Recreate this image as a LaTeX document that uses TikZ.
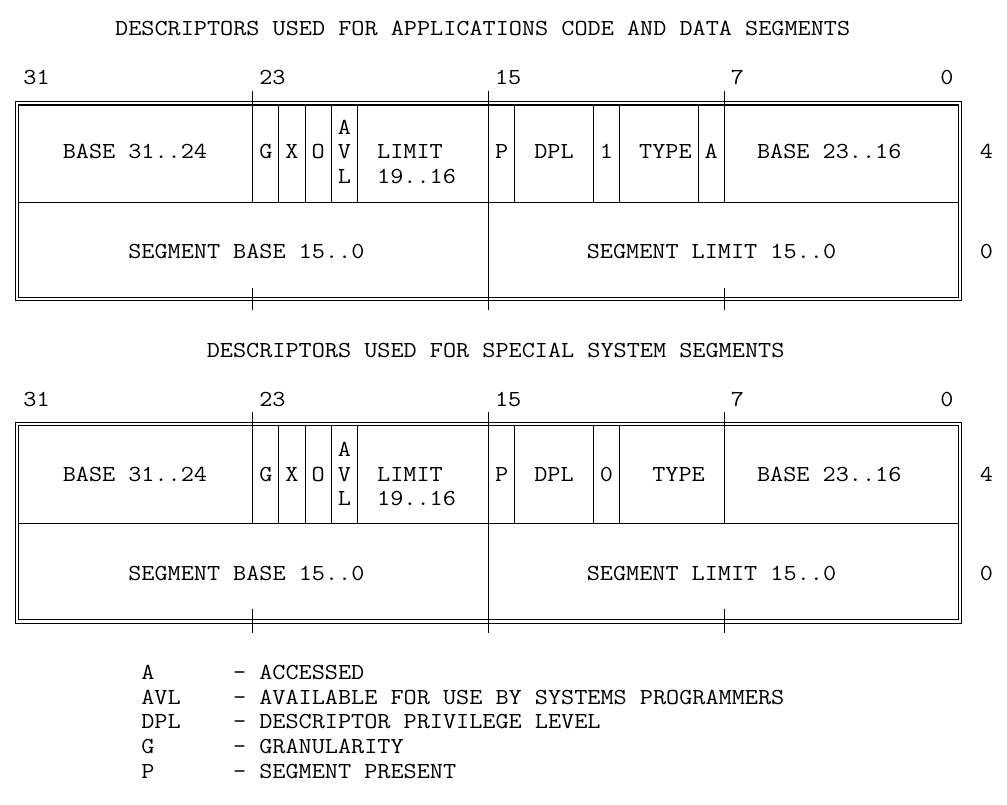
\documentclass[tikz,border=0pt]{standalone}
\usepackage{fontspec}
% typewriter face, widened so that one character takes one 13.1pt grid cell
\newfontfamily\gridfont{lmmono12-regular.otf}[FakeStretch=1.113]
\begin{document}
% character grid: column c has its left edge at \X{c}, row r has its baseline at \Y{r};
% ruled lines run through the middle of a cell, \V{c}
\def\X#1{10.35+13.1*(#1)}
\def\Y#1{35+24.78*(#1)}
\def\V#1{16.9+13.1*(#1)}
\begin{tikzpicture}[x=1pt,y=-1pt,
  mono/.style={font=\fontsize{22.9pt}{24.8pt}\selectfont\gridfont,
    inner sep=0pt, outer sep=0pt, anchor=base west, text=black},
  rule/.style={line width=1.1pt, draw=black},
]
\useasboundingbox[fill=white] (0,0) rectangle (1007,804);

% ---- frames of the two descriptor formats ----
% top / separator / bottom / tick top / tick bottom start / tick bottom end / inner field rules
\foreach \T/\S/\B/\TT/\TB/\TE/\cols in {
    103.3/202.3/298.8/90.7/288.3/310/{20,22,24,26,38,44,46,52},
    424.2/523.3/621.5/411.7/609.3/633/{20,22,24,26,38,44,46}}{
  % double outer border
  \draw[rule] ({\V{0}-1.7},{\T-1.7}) rectangle ({\V{72}+1.7},{\B+1.7});
  \draw[rule] ({\V{0}+1.7},{\T+1.7}) rectangle ({\V{72}-1.7},{\B-1.7});
  % separator between the two words
  \draw[rule] ({\V{0}+1.7},\S) -- ({\V{72}-1.7},\S);
  % field boundaries of the upper word
  \foreach \c in \cols {
    \draw[rule] ({\V{\c}},{\T+1.7}) -- ({\V{\c}},\S);
  }
  % byte boundaries with their ticks
  \draw[rule] ({\V{18}},\TT) -- ({\V{18}},\S);
  \draw[rule] ({\V{18}},\TB) -- ({\V{18}},\TE);
  \draw[rule] ({\V{54}},\TT) -- ({\V{54}},\S);
  \draw[rule] ({\V{54}},\TB) -- ({\V{54}},\TE);
  \draw[rule] ({\V{36}},\TT) -- ({\V{36}},\TE);
}

% ---- application code and data segments ----
\node[mono] (title1) at ({\X{8}},{\Y{0}}) {DESCRIPTORS USED FOR APPLICATIONS CODE AND DATA SEGMENTS};
\node[mono] (a31) at ({\X{1}},{\Y{2}}) {31};
\node[mono] (a23) at ({\X{19}},{\Y{2}}) {23};
\node[mono] (a15) at ({\X{37}},{\Y{2}}) {15};
\node[mono] (a7)  at ({\X{55}},{\Y{2}}) {7};
\node[mono] (a0)  at ({\X{71}},{\Y{2}}) {0};

\node[mono] (abasehi) at ({\X{4}},{\Y{5}}) {BASE 31..24};
\node[mono] (ag) at ({\X{19}},{\Y{5}}) {G};
\node[mono] (ax) at ({\X{21}},{\Y{5}}) {X};
\node[mono] (ao) at ({\X{23}},{\Y{5}}) {O};
\node[mono] (aavl1) at ({\X{25}},{\Y{4}}) {A};
\node[mono] (aavl2) at ({\X{25}},{\Y{5}}) {V};
\node[mono] (aavl3) at ({\X{25}},{\Y{6}}) {L};
\node[mono] (alim1) at ({\X{28}},{\Y{5}}) {LIMIT};
\node[mono] (alim2) at ({\X{28}},{\Y{6}}) {19..16};
\node[mono] (ap) at ({\X{37}},{\Y{5}}) {P};
\node[mono] (adpl) at ({\X{40}},{\Y{5}}) {DPL};
\node[mono] (as) at ({\X{45}},{\Y{5}}) {1};
\node[mono] (atype) at ({\X{48}},{\Y{5}}) {TYPE};
\node[mono] (aa) at ({\X{53}},{\Y{5}}) {A};
\node[mono] (abasemid) at ({\X{57}},{\Y{5}}) {BASE 23..16};
\node[mono] (aoff4) at ({\X{74}},{\Y{5}}) {4};
\node[mono] (abaselo) at ({\X{9}},{\Y{9}}) {SEGMENT BASE 15..0};
\node[mono] (alimlo) at ({\X{44}},{\Y{9}}) {SEGMENT LIMIT 15..0};
\node[mono] (aoff0) at ({\X{74}},{\Y{9}}) {0};

% ---- special system segments ----
\node[mono] (title2) at ({\X{15}},{\Y{13}}) {DESCRIPTORS USED FOR SPECIAL SYSTEM SEGMENTS};
\node[mono] (b31) at ({\X{1}},{\Y{15}}) {31};
\node[mono] (b23) at ({\X{19}},{\Y{15}}) {23};
\node[mono] (b15) at ({\X{37}},{\Y{15}}) {15};
\node[mono] (b7)  at ({\X{55}},{\Y{15}}) {7};
\node[mono] (b0)  at ({\X{71}},{\Y{15}}) {0};

\node[mono] (bbasehi) at ({\X{4}},{\Y{18}}) {BASE 31..24};
\node[mono] (bg) at ({\X{19}},{\Y{18}}) {G};
\node[mono] (bx) at ({\X{21}},{\Y{18}}) {X};
\node[mono] (bo) at ({\X{23}},{\Y{18}}) {O};
\node[mono] (bavl1) at ({\X{25}},{\Y{17}}) {A};
\node[mono] (bavl2) at ({\X{25}},{\Y{18}}) {V};
\node[mono] (bavl3) at ({\X{25}},{\Y{19}}) {L};
\node[mono] (blim1) at ({\X{28}},{\Y{18}}) {LIMIT};
\node[mono] (blim2) at ({\X{28}},{\Y{19}}) {19..16};
\node[mono] (bp) at ({\X{37}},{\Y{18}}) {P};
\node[mono] (bdpl) at ({\X{40}},{\Y{18}}) {DPL};
\node[mono] (bs) at ({\X{45}},{\Y{18}}) {0};
\node[mono] (btype) at ({\X{49}},{\Y{18}}) {TYPE};
\node[mono] (bbasemid) at ({\X{57}},{\Y{18}}) {BASE 23..16};
\node[mono] (boff4) at ({\X{74}},{\Y{18}}) {4};
\node[mono] (bbaselo) at ({\X{9}},{\Y{22}}) {SEGMENT BASE 15..0};
\node[mono] (blimlo) at ({\X{44}},{\Y{22}}) {SEGMENT LIMIT 15..0};
\node[mono] (boff0) at ({\X{74}},{\Y{22}}) {0};

% ---- legend ----
\node[mono] (kA)   at ({\X{10}},{\Y{26}}) {A};
\node[mono] (dA)   at ({\X{17}},{\Y{26}}) {- ACCESSED};
\node[mono] (kAVL) at ({\X{10}},{\Y{27}}) {AVL};
\node[mono] (dAVL) at ({\X{17}},{\Y{27}}) {- AVAILABLE FOR USE BY SYSTEMS PROGRAMMERS};
\node[mono] (kDPL) at ({\X{10}},{\Y{28}}) {DPL};
\node[mono] (dDPL) at ({\X{17}},{\Y{28}}) {- DESCRIPTOR PRIVILEGE LEVEL};
\node[mono] (kG)   at ({\X{10}},{\Y{29}}) {G};
\node[mono] (dG)   at ({\X{17}},{\Y{29}}) {- GRANULARITY};
\node[mono] (kP)   at ({\X{10}},{\Y{30}}) {P};
\node[mono] (dP)   at ({\X{17}},{\Y{30}}) {- SEGMENT PRESENT};
\end{tikzpicture}
\end{document}
